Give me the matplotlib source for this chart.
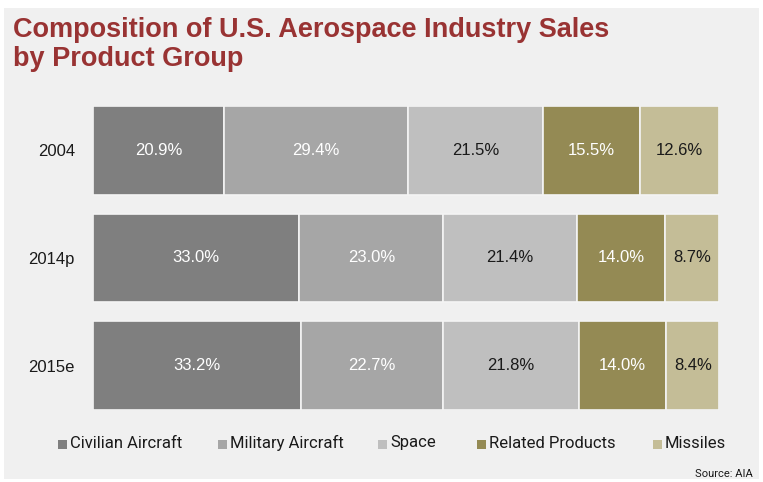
import matplotlib
matplotlib.use("Agg")
import matplotlib.pyplot as plt
from matplotlib.patches import Rectangle
import numpy as np

years = ["2004", "2014p", "2015e"]
groups = ["Civilian Aircraft", "Military Aircraft", "Space", "Related Products", "Missiles"]
civilian = [20.9, 33.0, 33.2]
military = [29.4, 23.0, 22.7]
space = [21.5, 21.4, 21.8]
related = [15.5, 14.0, 14.0]
missiles = [12.6, 8.7, 8.4]

colors = ["#7f7f7f", "#a6a6a6", "#bfbfbf", "#948a54", "#c4bd97"]
text_colors = ["white", "white", "#1a1a1a", "white", "#1a1a1a"]
series = [civilian, military, space, related, missiles]

W, H = 763, 482
fig = plt.figure(figsize=(W / 100, H / 100), dpi=100)
fig.patch.set_facecolor("white")

# light gray panel behind everything
fig.patches.append(Rectangle((4 / W, 1 - 479 / H), 755 / W, 471 / H,
                             transform=fig.transFigure, facecolor="#f0f0f0",
                             edgecolor="none", zorder=-5))

fig.text(13 / W, 1 - 17 / H, "Composition of U.S. Aerospace Industry Sales\nby Product Group",
         ha="left", va="top", fontsize=19.5, fontweight="bold", color="#993333",
         family="Liberation Sans", linespacing=1.17)

ax = fig.add_axes([93 / W, 1 - 410 / H, (719 - 93) / W, (410 - 106) / H])
ax.set_facecolor("none")
ax.set_zorder(1)

totals = np.sum(series, axis=0)
ypos = np.arange(len(years))
bar_h = 0.826
left = np.zeros(len(years))
for vals, col, tc in zip(series, colors, text_colors):
    share = np.array(vals) / totals * 100
    ax.barh(ypos, share, left=left, height=bar_h, color=col,
            edgecolor="#f4f4f4", linewidth=1.2)
    for y, l, s, v in zip(ypos, left, share, vals):
        ax.text(l + s / 2, y, f"{v:.1f}%", ha="center", va="center",
                color=tc, fontsize=12, family="Liberation Sans")
    left += share

ax.set_xlim(0, 100)
ax.set_ylim(len(years) - 1 + bar_h / 2, -bar_h / 2)
ax.set_xticks([])
ax.set_yticks(ypos)
ax.set_yticklabels(years, fontsize=12, family="Liberation Sans", color="#1a1a1a",
                   va="center_baseline")
ax.tick_params(axis="y", length=0, pad=13)
for sp in ax.spines.values():
    sp.set_visible(False)

# legend row
legend_x = [58, 218, 378, 477, 653]
for x, name, col in zip(legend_x, groups, colors):
    fig.patches.append(Rectangle((x / W, 1 - 449 / H), 9 / W, 9 / H,
                                 transform=fig.transFigure, facecolor=col,
                                 edgecolor="none", zorder=2))
    fig.text((x + 12) / W, 1 - 443 / H, name, ha="left", va="center",
             fontsize=12, family="Roboto", color="#1a1a1a")

fig.text(753 / W, 1 - 474 / H, "Source: AIA", ha="right", va="center",
         fontsize=8, family="Roboto", color="#1a1a1a")

fig.savefig("out.png", dpi=100, facecolor=fig.get_facecolor())
